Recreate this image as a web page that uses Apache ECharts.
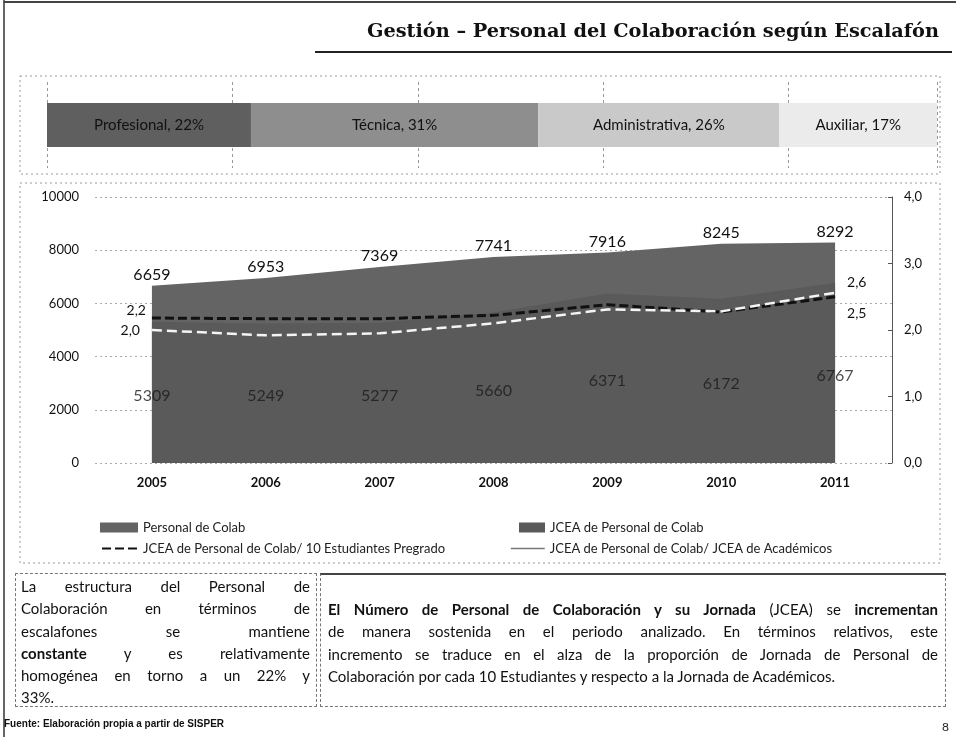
<!DOCTYPE html>
<html>
<head>
<meta charset="utf-8">
<script src="https://cdn.jsdelivr.net/npm/echarts@6/dist/echarts.min.js"></script>
<style>
body { margin: 0; background: #fff; }
#chart { position: absolute; left: 0; top: 0; width: 956px; height: 737px; }
.box { position: absolute; box-sizing: border-box; font-family: Lato, 'Noto Sans', sans-serif; font-size: 15px; line-height: 22.3px; color: #111; }
.box div { text-align: justify; text-align-last: justify; }
.box div.last { text-align-last: left; }
</style>
</head>
<body>
<div id="chart"></div>
<div class="box" style="left:15px;top:573px;width:302px;height:134px;border:1px dashed #777;padding:1px 6px 0 5px;">
  <div>La estructura del Personal de</div>
  <div>Colaboración en términos de</div>
  <div>escalafones se mantiene</div>
  <div><b>constante</b> y es relativamente</div>
  <div>homogénea en torno a un 22% y</div>
  <div class="last">33%.</div>
</div>
<div class="box" style="left:320px;top:573px;width:626px;height:134px;border:1px dashed #777;border-top:2px solid #444;padding:23px 7px 0 7px;">
  <div><b>El Número de Personal de Colaboración y su Jornada</b> (JCEA) se <b>incrementan</b></div>
  <div>de manera sostenida en el periodo analizado. En términos relativos, este</div>
  <div>incremento se traduce en el alza de la proporción de Jornada de Personal de</div>
  <div class="last">Colaboración por cada 10 Estudiantes y respecto a la Jornada de Académicos.</div>
</div>
<script>
// datos
const years = ['2005', '2006', '2007', '2008', '2009', '2010', '2011']
const personalColab = [6659, 6953, 7369, 7741, 7916, 8245, 8292]
const jceaColab = [5309, 5249, 5277, 5660, 6371, 6172, 6767]
const porEstudiantes = [2.18, 2.17, 2.17, 2.22, 2.38, 2.27, 2.50]
const porAcademicos = [2.00, 1.92, 1.95, 2.10, 2.31, 2.28, 2.56]

const escalafones = ['Profesional', 'Técnica', 'Administrativa', 'Auxiliar']
const escalafonPct = [22, 31, 26, 17]
const escalafonColors = ['#5f5f5f', '#8e8e8e', '#c9c9c9', '#ebebeb']

const FONT = 'Lato, "Noto Sans", sans-serif'
const coma = v => v.toFixed(1).replace('.', ',')
const last = years.length - 1

// etiquetas solo en el primer y ultimo punto de las lineas
const endLabels = (arr, first, end) => arr.map((v, i) => {
  if (i === 0) return { value: v, label: first }
  if (i === last) return { value: v, label: end }
  return { value: v, label: { show: false } }
})

const chart = echarts.init(document.getElementById('chart'))

const legendText = { fontSize: 13, color: '#222', fontFamily: FONT }

const option = {
  backgroundColor: '#ffffff',
  animation: false,
  textStyle: { fontFamily: FONT },
  grid: [
    { left: 95, right: 64, top: 197, bottom: 274 },
    { left: 47, right: 19, top: 82, height: 86 }
  ],
  legend: [
    { data: ['Personal de Colab'], left: 95, top: 516, icon: 'rect', itemWidth: 38, itemHeight: 10 },
    { data: ['JCEA de Personal de Colab'], left: 514, top: 516, icon: 'rect', itemWidth: 26, itemHeight: 10 },
    {
      data: [{ name: 'JCEA de Personal de Colab/ 10 Estudiantes Pregrado', itemStyle: { opacity: 0 } }],
      left: 96, top: 537, itemWidth: 36, itemHeight: 11
    },
    {
      data: [{
        name: 'JCEA de Personal de Colab/ JCEA de Académicos',
        itemStyle: { opacity: 0 },
        lineStyle: { color: '#777', type: 'solid', width: 1.5 }
      }],
      left: 505, top: 537, itemWidth: 34, itemHeight: 11
    }
  ].map(l => Object.assign({ itemGap: 6, textStyle: legendText }, l)),
  xAxis: [
    {
      gridIndex: 0, type: 'category', data: years, boundaryGap: true,
      axisLine: { show: false }, axisTick: { show: false },
      axisLabel: { fontSize: 13, fontWeight: 'bold', color: '#111', margin: 13 }
    },
    {
      gridIndex: 1, type: 'value', min: 0, max: escalafonPct.reduce((a, b) => a + b, 0), interval: 20,
      axisLine: { show: false }, axisTick: { show: false }, axisLabel: { show: false },
      splitLine: { show: true, lineStyle: { color: '#999', type: [3, 3] } }
    }
  ],
  yAxis: [
    {
      gridIndex: 0, type: 'value', min: 0, max: 10000, interval: 2000,
      axisLine: { show: false }, axisTick: { show: false },
      axisLabel: { fontSize: 13, color: '#111', margin: 16, formatter: v => String(v) },
      splitLine: { lineStyle: { color: '#aaa', type: [2, 3] } }
    },
    {
      gridIndex: 0, type: 'value', position: 'right', min: 0, max: 4, interval: 1,
      axisLine: { show: true, lineStyle: { color: '#555' } },
      axisTick: { show: true, inside: true, length: 4, lineStyle: { color: '#555' } },
      axisLabel: { fontSize: 13, color: '#111', margin: 12, formatter: coma },
      splitLine: { show: false }
    },
    {
      gridIndex: 1, type: 'category', data: ['Escalafón'],
      axisLine: { show: false }, axisTick: { show: false }, axisLabel: { show: false }
    }
  ],
  series: [
    {
      name: 'Personal de Colab', type: 'line', data: personalColab,
      xAxisIndex: 0, yAxisIndex: 0,
      symbol: 'circle', symbolSize: 0,
      lineStyle: { width: 0 },
      itemStyle: { color: '#646464' },
      areaStyle: { color: '#646464', opacity: 1 },
      label: { show: true, position: 'top', distance: 3, fontSize: 16, color: '#111', fontFamily: FONT }
    },
    {
      name: 'JCEA de Personal de Colab', type: 'line', data: jceaColab,
      xAxisIndex: 0, yAxisIndex: 0,
      symbol: 'circle', symbolSize: 0,
      lineStyle: { width: 0 },
      itemStyle: { color: '#5a5a5a' },
      areaStyle: { color: '#5a5a5a', opacity: 1 }
    },
    {
      name: 'JCEA de Personal de Colab/ 10 Estudiantes Pregrado', type: 'line',
      xAxisIndex: 0, yAxisIndex: 1,
      data: endLabels(porEstudiantes,
        { show: true, position: 'left', distance: 6, offset: [0, -8] },
        { show: true, position: 'right', distance: 12, offset: [0, 17] }),
      symbol: 'circle', symbolSize: 0,
      itemStyle: { color: '#111' },
      lineStyle: { color: '#111', width: 3, type: [9, 4] },
      label: { fontSize: 14, color: '#111', fontFamily: FONT, formatter: p => coma(p.value) },
      z: 5
    },
    {
      name: 'JCEA de Personal de Colab/ JCEA de Académicos', type: 'line',
      xAxisIndex: 0, yAxisIndex: 1,
      data: endLabels(porAcademicos,
        { show: true, position: 'left', distance: 12 },
        { show: true, position: 'right', distance: 12, offset: [0, -10] }),
      symbol: 'circle', symbolSize: 0,
      itemStyle: { color: '#f4f4f4' },
      lineStyle: { color: '#f4f4f4', width: 2.5, type: [10, 5] },
      label: { fontSize: 14, color: '#111', fontFamily: FONT, formatter: p => coma(p.value) },
      z: 5
    },
    {
      // ayuda: etiquetas de JCEA centradas en su area
      name: 'etiquetas-jcea', type: 'scatter',
      xAxisIndex: 0, yAxisIndex: 0,
      data: jceaColab.map(v => v / 2),
      symbolSize: 0, silent: true,
      label: {
        show: true, position: 'inside', offset: [0, 3], fontSize: 16, color: '#1a1a1a', fontFamily: FONT,
        formatter: p => String(jceaColab[p.dataIndex])
      },
      z: 4
    },
    ...escalafones.map((name, i) => ({
      name, type: 'bar', stack: 'esc',
      xAxisIndex: 1, yAxisIndex: 2,
      barWidth: 44,
      data: [escalafonPct[i]],
      itemStyle: { color: escalafonColors[i] },
      label: {
        show: true, position: 'inside', fontSize: 15, color: '#111', fontFamily: FONT,
        formatter: () => name + ', ' + escalafonPct[i] + '%'
      }
    }))
  ],
  graphic: [
    { type: 'line', shape: { x1: 4, y1: 0, x2: 4, y2: 737 }, style: { stroke: '#333', lineWidth: 1.5 } },
    { type: 'line', shape: { x1: 4, y1: 2, x2: 956, y2: 2 }, style: { stroke: '#444', lineWidth: 2 } },
    { type: 'line', shape: { x1: 315, y1: 52, x2: 952, y2: 52 }, style: { stroke: '#222', lineWidth: 2 } },
    {
      type: 'text', right: 17, top: 22,
      style: { text: 'Gestión – Personal del Colaboración según Escalafón', font: 'bold 19.3px "DejaVu Serif", serif', fill: '#111' }
    },
    { type: 'rect', shape: { x: 20, y: 76, width: 920, height: 98 }, style: { fill: 'none', stroke: '#999', lineDash: [2, 3], lineWidth: 1 } },
    { type: 'rect', shape: { x: 20, y: 183, width: 920, height: 380 }, style: { fill: 'none', stroke: '#999', lineDash: [2, 3], lineWidth: 1 } },
    {
      type: 'text', left: 4, top: 719,
      style: { text: 'Fuente: Elaboración propia a partir de SISPER', font: 'bold 10px "Liberation Sans Narrow", "Liberation Sans", sans-serif', fill: '#111' }
    },
    {
      type: 'text', left: 942, top: 721,
      style: { text: '8', font: '12px ' + FONT, fill: '#222' }
    }
  ]
}

chart.setOption(option)
</script>
</body>
</html>
